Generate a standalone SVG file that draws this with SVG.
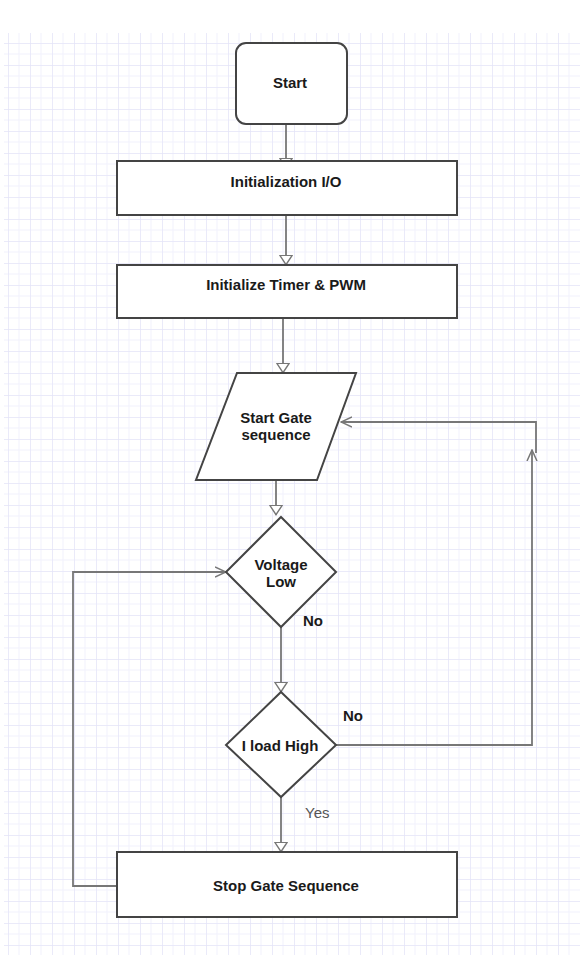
<svg xmlns="http://www.w3.org/2000/svg" width="580" height="955" viewBox="0 0 580 955">
<defs>
<pattern id="grid" x="8" y="43" width="22" height="22" patternUnits="userSpaceOnUse">
<path d="M11 0V22M0 11H22" stroke="#f1f1fc" stroke-width="1" fill="none"/>
<path d="M0 0V22M0 0H22" stroke="#e4e4f8" stroke-width="1.5" fill="none"/>
</pattern>
<marker id="tri" viewBox="0 0 11 14" refX="10.5" refY="7" markerWidth="11" markerHeight="14" markerUnits="userSpaceOnUse" orient="auto">
<path d="M0.8 0.8L10.2 7L0.8 13.2Z" fill="#fff" stroke="#777" stroke-width="1.4"/>
</marker>
<marker id="open" viewBox="0 0 12 12" refX="11" refY="6" markerWidth="12" markerHeight="12" markerUnits="userSpaceOnUse" orient="auto">
<path d="M0 1L11 6L0 11" fill="none" stroke="#777" stroke-width="1.5"/>
</marker>
</defs>
<style>
.node{fill:#fff;stroke:#444;stroke-width:2}
.lbl{font-family:"Liberation Sans",Arial,sans-serif;font-size:15px;font-weight:bold;fill:#1a1a1a;text-anchor:middle}
.side{font-family:"Liberation Sans",Arial,sans-serif;font-size:15px;font-weight:bold;fill:#1a1a1a}
.yes{font-family:"Liberation Sans",Arial,sans-serif;font-size:15px;fill:#555}
.conn{fill:none;stroke:#777;stroke-width:1.8}
</style>
<rect width="580" height="955" fill="#fff"/>
<rect x="4" y="33" width="576" height="922" fill="url(#grid)"/>
<g id="connectors">
<path class="conn" d="M286 116V168" marker-end="url(#tri)"/>
<path class="conn" d="M286 215V265" marker-end="url(#tri)"/>
<path class="conn" d="M283 318V373" marker-end="url(#tri)"/>
<path class="conn" d="M276 480V515" marker-end="url(#tri)"/>
<path class="conn" d="M281 627V692" marker-end="url(#tri)"/>
<path class="conn" d="M281 797V852" marker-end="url(#tri)"/>
<path class="conn" d="M336 745H532V450" marker-end="url(#open)"/>
<path class="conn" d="M536 453V422H341" marker-end="url(#open)"/>
<path class="conn" d="M117 886H73V572H226" marker-end="url(#open)"/>
</g>
<g id="start">
<rect class="node" x="236" y="43" width="111" height="81" rx="10"/>
<text class="lbl" x="290" y="88">Start</text>
</g>
<g id="init-io">
<rect class="node" x="117" y="161" width="340" height="54"/>
<text class="lbl" x="286" y="187">Initialization I/O</text>
</g>
<g id="init-timer">
<rect class="node" x="117" y="265" width="340" height="53"/>
<text class="lbl" x="286" y="290">Initialize Timer &amp; PWM</text>
</g>
<g id="start-gate">
<polygon class="node" points="237,373 356,373 317,480 196,480"/>
<text class="lbl" x="276" y="423">Start Gate</text>
<text class="lbl" x="276" y="440">sequence</text>
</g>
<g id="voltage-low">
<polygon class="node" points="281,517 336,572 281,627 226,572"/>
<text class="lbl" x="281" y="570">Voltage</text>
<text class="lbl" x="281" y="587">Low</text>
<text class="side" x="303" y="626">No</text>
</g>
<g id="iload-high">
<polygon class="node" points="281,692 336,745 281,797 226,745"/>
<text class="lbl" x="280" y="751">I load High</text>
<text class="side" x="343" y="721">No</text>
<text class="yes" x="305" y="818">Yes</text>
</g>
<g id="stop-gate">
<rect class="node" x="117" y="852" width="340" height="65"/>
<text class="lbl" x="286" y="891">Stop Gate Sequence</text>
</g>
</svg>
